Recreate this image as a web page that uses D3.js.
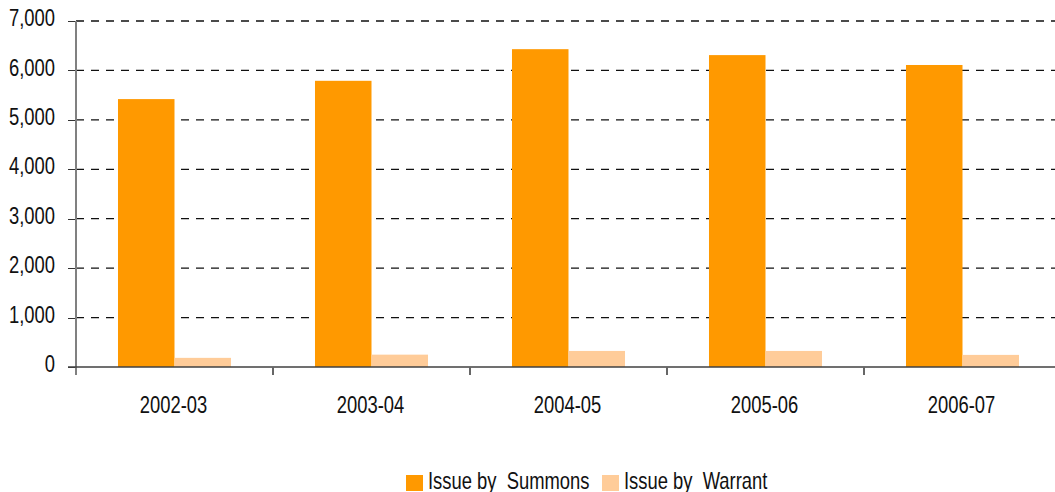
<!DOCTYPE html>
<html>
<head>
  <meta charset="utf-8">
  <title>Issue by summons / warrant</title>
  <script src="https://cdnjs.cloudflare.com/ajax/libs/d3/7.8.5/d3.min.js"></script>
</head>
<style>
  body { margin: 0; background: #fff; }
  svg { display: block; font-family: "Liberation Sans", Arial, sans-serif; }
  text { fill: #111; }
</style>
<body>
<svg id="svg" width="1055" height="492"></svg>
<script type="text/javascript">
  const years = ['2002-03', '2003-04', '2004-05', '2005-06', '2006-07'];
  const seriesNames = ['Issue by  Summons', 'Issue by  Warrant'];
  const summons = [5420, 5790, 6430, 6310, 6110];
  const warrant = [185, 250, 325, 325, 245];
  const yTicks = [0, 1000, 2000, 3000, 4000, 5000, 6000, 7000];
  const colors = ['#ff9900', '#ffcc99'];

  const rows = years.map((yr, i) => ({ year: yr, values: [summons[i], warrant[i]] }));

  const svg = d3.select('#svg');
  const plotLeft = 76, plotRight = 1061, plotTop = 21, plotBottom = 367;
  const narrow = 0.8; // squeeze Liberation Sans to look like Arial Narrow
  const fontSize = 23;

  const x0 = d3.scaleBand().domain(years).range([plotLeft, plotRight]);
  const x1 = d3.scaleBand().domain([0, 1]).range([0, x0.bandwidth()]).paddingOuter(0.743);
  const y = d3.scaleLinear().domain([0, 7000]).range([plotBottom, plotTop]);

  // dashed gridlines behind the bars
  svg.append('g')
    .selectAll('line')
    .data(yTicks.filter(d => d > 0))
    .enter()
    .append('line')
    .attr('x1', plotLeft).attr('x2', 1055)
    .attr('y1', d => y(d)).attr('y2', d => y(d))
    .attr('stroke', '#111')
    .attr('stroke-width', 1.3)
    .attr('stroke-dasharray', '8,7');

  // bars
  svg.append('g')
    .selectAll('g')
    .data(rows)
    .enter()
    .append('g')
    .attr('transform', d => `translate(${x0(d.year)},0)`)
    .selectAll('rect')
    .data(d => d.values)
    .enter()
    .append('rect')
    .attr('x', (d, i) => x1(i))
    .attr('width', x1.bandwidth())
    .attr('y', d => y(d))
    .attr('height', d => y(0) - y(d))
    .attr('fill', (d, i) => colors[i]);

  // y axis
  const yAxis = d3.axisLeft(y).tickValues(yTicks).tickFormat(d3.format(',')).tickSize(8).tickPadding(13);
  const yG = svg.append('g').attr('transform', `translate(${plotLeft},0)`).call(yAxis);
  yG.attr('font-family', null).attr('font-size', fontSize);
  yG.select('.domain').remove();
  yG.selectAll('.tick line').attr('stroke', '#333').attr('shape-rendering', 'crispEdges');
  yG.selectAll('.tick text')
    .attr('fill', '#111')
    .attr('dy', '0.2em')
    .attr('x', -21 / narrow)
    .attr('transform', `scale(${narrow},1)`);
  svg.append('line')
    .attr('x1', plotLeft).attr('x2', plotLeft)
    .attr('y1', plotTop).attr('y2', plotBottom + 8)
    .attr('stroke', '#808080').attr('stroke-width', 2);

  // x axis
  svg.append('line')
    .attr('x1', plotLeft - 8).attr('x2', 1055)
    .attr('y1', plotBottom).attr('y2', plotBottom)
    .attr('stroke', '#404040').attr('stroke-width', 1.5);
  svg.append('g')
    .selectAll('line')
    .data(years.slice(1))
    .enter()
    .append('line')
    .attr('x1', d => x0(d)).attr('x2', d => x0(d))
    .attr('y1', plotBottom).attr('y2', plotBottom + 8)
    .attr('stroke', '#666').attr('stroke-width', 2);
  svg.append('g')
    .selectAll('text')
    .data(years)
    .enter()
    .append('text')
    .attr('transform', d => `translate(${x0(d) + x0.bandwidth() / 2 - 1},413) scale(${narrow},1)`)
    .attr('text-anchor', 'middle')
    .attr('font-size', fontSize)
    .text(d => d);

  // legend
  const legendX = [406, 602];
  const lg = svg.append('g')
    .selectAll('g')
    .data(seriesNames)
    .enter()
    .append('g')
    .attr('transform', (d, i) => `translate(${legendX[i]},475)`);
  lg.append('rect').attr('width', 17).attr('height', 16).attr('fill', (d, i) => colors[i]);
  lg.append('text')
    .attr('transform', `translate(22,14) scale(${narrow},1)`)
    .attr('font-size', fontSize)
    .style('white-space', 'pre')
    .text(d => d);
</script>
</body>
</html>
